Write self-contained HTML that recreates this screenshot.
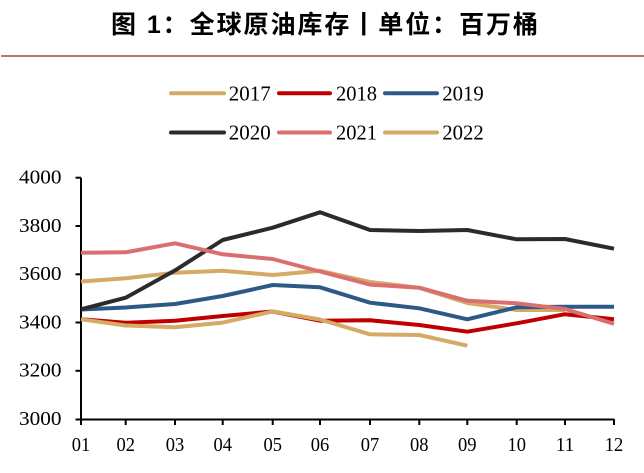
<!DOCTYPE html>
<html>
<head>
<meta charset="utf-8">
<style>
  html, body { margin:0; padding:0; background:#fff; }
  svg { display:block; }
</style>
</head>
<body>
<svg width="644" height="473" viewBox="0 0 644 473" xmlns="http://www.w3.org/2000/svg">
  <rect width="644" height="473" fill="#fff"/>
  <!-- Title -->
  <text x="111" y="33" font-family="'Liberation Sans','Noto Sans CJK SC',sans-serif" font-size="25" font-weight="bold" fill="#000" textLength="427" lengthAdjust="spacing">图 1：全球原油库存丨单位：百万桶</text>
  <!-- divider -->
  <line x1="1" y1="56" x2="644" y2="56" stroke="#b47676" stroke-width="2"/>

  <!-- Legend -->
  <g stroke-width="4" stroke-linecap="round" fill="none">
    <line x1="171" y1="93.3" x2="224" y2="93.3" stroke="#d4aa64"/>
    <line x1="279" y1="93.3" x2="330" y2="93.3" stroke="#c00000"/>
    <line x1="385" y1="93.3" x2="437" y2="93.3" stroke="#2d5a85"/>
    <line x1="171" y1="132.5" x2="224" y2="132.5" stroke="#2b2b2b"/>
    <line x1="279" y1="132.5" x2="330" y2="132.5" stroke="#d9706f"/>
    <line x1="385" y1="132.5" x2="437" y2="132.5" stroke="#d4aa64"/>
  </g>
  <g font-family="'Liberation Serif',serif" font-size="21" fill="#000">
    <text x="228.7" y="100.5" textLength="42" lengthAdjust="spacingAndGlyphs">2017</text>
    <text x="336" y="100.5" textLength="41" lengthAdjust="spacingAndGlyphs">2018</text>
    <text x="442.3" y="100.5" textLength="41.5" lengthAdjust="spacingAndGlyphs">2019</text>
    <text x="228.7" y="139.5" textLength="42" lengthAdjust="spacingAndGlyphs">2020</text>
    <text x="336" y="139.5" textLength="41" lengthAdjust="spacingAndGlyphs">2021</text>
    <text x="442.3" y="139.5" textLength="41.5" lengthAdjust="spacingAndGlyphs">2022</text>
  </g>

  <!-- Axes -->
  <g stroke="#000" stroke-width="2" fill="none">
    <line x1="81" y1="177.7" x2="81" y2="425"/>
    <line x1="81" y1="419.5" x2="614" y2="419.5"/>
    <!-- y ticks -->
    <line x1="75.5" y1="177.7" x2="81" y2="177.7"/>
    <line x1="75.5" y1="226" x2="81" y2="226"/>
    <line x1="75.5" y1="274.3" x2="81" y2="274.3"/>
    <line x1="75.5" y1="322.5" x2="81" y2="322.5"/>
    <line x1="75.5" y1="370.8" x2="81" y2="370.8"/>
    <line x1="75.5" y1="419.5" x2="81" y2="419.5"/>
    <!-- x ticks -->
    <line x1="125.7" y1="419" x2="125.7" y2="425"/>
    <line x1="175" y1="419" x2="175" y2="425"/>
    <line x1="222.7" y1="419" x2="222.7" y2="425"/>
    <line x1="272.7" y1="419" x2="272.7" y2="425"/>
    <line x1="320" y1="419" x2="320" y2="425"/>
    <line x1="370" y1="419" x2="370" y2="425"/>
    <line x1="419.3" y1="419" x2="419.3" y2="425"/>
    <line x1="467.3" y1="419" x2="467.3" y2="425"/>
    <line x1="516.7" y1="419" x2="516.7" y2="425"/>
    <line x1="565" y1="419" x2="565" y2="425"/>
    <line x1="614" y1="419" x2="614" y2="425"/>
  </g>

  <!-- Y labels -->
  <g font-family="'Liberation Serif',serif" font-size="20" fill="#000">
    <text x="19" y="183.5" textLength="42.5" lengthAdjust="spacingAndGlyphs">4000</text>
    <text x="19" y="231.8" textLength="42.5" lengthAdjust="spacingAndGlyphs">3800</text>
    <text x="19" y="280.1" textLength="42.5" lengthAdjust="spacingAndGlyphs">3600</text>
    <text x="19" y="328.3" textLength="42.5" lengthAdjust="spacingAndGlyphs">3400</text>
    <text x="19" y="376.6" textLength="42.5" lengthAdjust="spacingAndGlyphs">3200</text>
    <text x="19" y="424.9" textLength="42.5" lengthAdjust="spacingAndGlyphs">3000</text>
  </g>
  <!-- X labels -->
  <g font-family="'Liberation Serif',serif" font-size="20" fill="#000" text-anchor="middle">
    <text x="81" y="451" textLength="18.5" lengthAdjust="spacingAndGlyphs">01</text>
    <text x="125.7" y="451" textLength="18.5" lengthAdjust="spacingAndGlyphs">02</text>
    <text x="175" y="451" textLength="18.5" lengthAdjust="spacingAndGlyphs">03</text>
    <text x="222.7" y="451" textLength="18.5" lengthAdjust="spacingAndGlyphs">04</text>
    <text x="272.7" y="451" textLength="18.5" lengthAdjust="spacingAndGlyphs">05</text>
    <text x="320" y="451" textLength="18.5" lengthAdjust="spacingAndGlyphs">06</text>
    <text x="370" y="451" textLength="18.5" lengthAdjust="spacingAndGlyphs">07</text>
    <text x="419.3" y="451" textLength="18.5" lengthAdjust="spacingAndGlyphs">08</text>
    <text x="467.3" y="451" textLength="18.5" lengthAdjust="spacingAndGlyphs">09</text>
    <text x="516.7" y="451" textLength="18.5" lengthAdjust="spacingAndGlyphs">10</text>
    <text x="565" y="451" textLength="18.5" lengthAdjust="spacingAndGlyphs">11</text>
    <text x="614" y="451" textLength="18.5" lengthAdjust="spacingAndGlyphs">12</text>
  </g>

  <!-- Series -->
  <g fill="none" stroke-width="4" stroke-linejoin="round" stroke-linecap="butt">
    <!-- 2017 -->
    <polyline stroke="#d4aa64" points="81,281.5 125.7,278.3 175,272.7 222.7,270.8 272.7,275 320,270.8 370,282 419.3,287.8 467.3,303 516.7,310 565,310"/>
    <!-- 2018 -->
    <polyline stroke="#c00000" points="81,319.2 125.7,322.8 175,320.7 222.7,316 272.7,311.5 320,320.7 370,320.3 419.3,325 467.3,331.7 516.7,323.3 565,314.2 614,319.3"/>
    <!-- 2019 -->
    <polyline stroke="#2d5a85" points="81,309.5 125.7,307.5 175,304 222.7,296 272.7,285 320,287.3 370,302.7 419.3,308.3 467.3,319.3 516.7,307.3 565,306.8 614,306.8"/>
    <!-- 2020 -->
    <polyline stroke="#2b2b2b" points="81,309.3 125.7,297.7 175,270.4 222.7,240 272.7,227.7 320,212.3 370,230 419.3,231 467.3,230 516.7,239.3 565,239 614,248.7"/>
    <!-- 2021 -->
    <polyline stroke="#d9706f" points="81,252.7 125.7,252.3 175,243.3 222.7,254.3 272.7,259 320,271.5 370,284.6 419.3,287.7 467.3,300.8 516.7,303.3 565,309 614,323.8"/>
    <!-- 2022 -->
    <polyline stroke="#d4aa64" points="81,319.3 125.7,325.5 175,327.2 222.7,322.6 272.7,311.4 320,319.5 370,334.3 419.3,335 467.3,345.7"/>
  </g>
</svg>
</body>
</html>
